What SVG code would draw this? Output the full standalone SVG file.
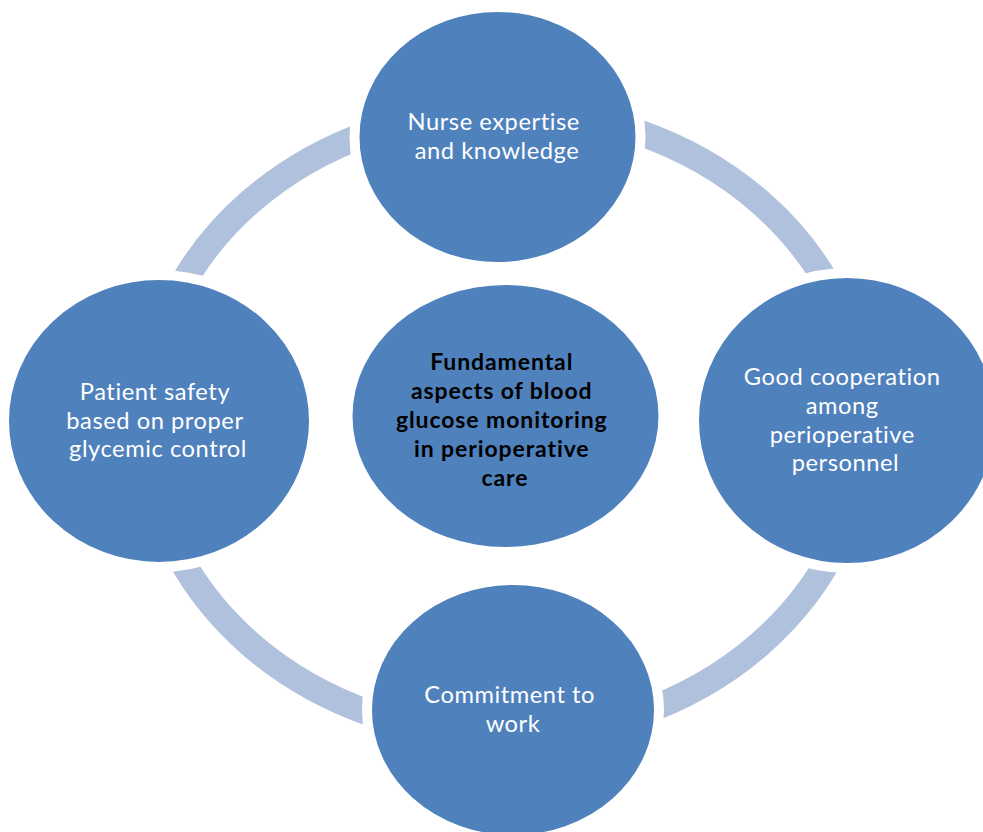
<svg xmlns="http://www.w3.org/2000/svg" width="983" height="832" viewBox="0 0 983 832">
  <style>
    .bubble { fill: #4F81BD; stroke: #FFFFFF; stroke-width: 10; }
    .hub { fill: #4F81BD; }
    text { font-family: Lato, "Open Sans", sans-serif; text-anchor: middle; font-variant-ligatures: none; }
    .label { font-size: 23.7px; letter-spacing: 0.55px; fill: #FFFFFF; }
    .hub-label { font-size: 23px; letter-spacing: 0.9px; font-weight: bold; fill: #000000; }
    .ring { fill: none; stroke: #B0C1DD; stroke-width: 26; }
  </style>
  <rect width="983" height="832" fill="#FFFFFF"/>

  <!-- cycle band joining the outer nodes -->
  <g id="connectors">
    <ellipse class="ring" cx="505" cy="423" rx="360" ry="313"/>
  </g>

  <g id="node-center">
    <ellipse class="hub" cx="505.5" cy="416" rx="153" ry="131"/>
    <text class="hub-label">
      <tspan x="505" y="370">Fundamental</tspan>
      <tspan x="505" y="399">aspects of blood</tspan>
      <tspan x="505" y="428">glucose monitoring</tspan>
      <tspan x="505" y="457">in perioperative</tspan>
      <tspan x="505" y="486">care</tspan>
    </text>
  </g>

  <g id="node-top">
    <ellipse class="bubble" cx="497.5" cy="137" rx="143" ry="130"/>
    <text class="label">
      <tspan x="497" y="130">Nurse expertise</tspan>
      <tspan x="497" y="158.5">and knowledge</tspan>
    </text>
  </g>

  <g id="node-right">
    <ellipse class="bubble" cx="847" cy="420.5" rx="153" ry="147.5"/>
    <text class="label">
      <tspan x="845.5" y="385">Good cooperation</tspan>
      <tspan x="845.5" y="413.5">among</tspan>
      <tspan x="845.5" y="442.5">perioperative</tspan>
      <tspan x="845.5" y="471">personnel</tspan>
    </text>
  </g>

  <g id="node-bottom">
    <ellipse class="bubble" cx="513" cy="710" rx="146" ry="130"/>
    <text class="label">
      <tspan x="513" y="703">Commitment to</tspan>
      <tspan x="513" y="731.5">work</tspan>
    </text>
  </g>

  <g id="node-left">
    <ellipse class="bubble" cx="159" cy="421" rx="155" ry="146"/>
    <text class="label">
      <tspan x="158" y="400">Patient safety</tspan>
      <tspan x="158" y="428.5">based on proper</tspan>
      <tspan x="158" y="457">glycemic control</tspan>
    </text>
  </g>
</svg>
